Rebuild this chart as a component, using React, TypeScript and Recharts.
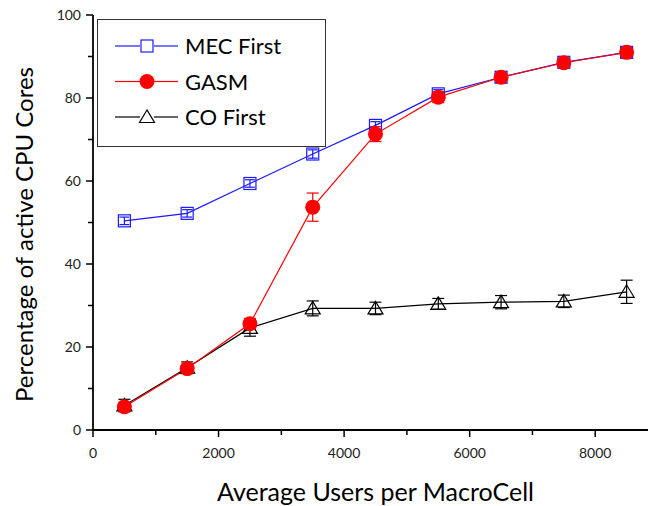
import React from "react";
import {
  LineChart,
  Line,
  XAxis,
  YAxis,
  ErrorBar,
  Legend,
} from "recharts";

const users = [500, 1500, 2500, 3500, 4500, 5500, 6500, 7500, 8500];
const mecFirst = [50.4, 52.2, 59.4, 66.5, 73.4, 81.0, 85.0, 88.6, 91.0];
const mecErr = [0.9, 0.9, 0.9, 1.0, 0.9, 1.0, 0.8, 0.8, 0.8];
const gasm = [5.6, 14.8, 25.6, 53.7, 71.3, 80.2, 85.0, 88.5, 91.0];
const gasmErr = [1.0, 1.0, 1.3, 3.4, 1.8, 1.3, 0.8, 0.8, 0.8];
const coFirst = [5.9, 15.0, 24.6, 29.3, 29.3, 30.4, 30.8, 31.0, 33.3];
const coErr = [1.5, 1.4, 2.0, 1.8, 1.5, 1.3, 1.6, 1.5, 2.8];

const seriesNames = ["MEC First", "GASM", "CO First"];
const xTicks = [0, 1000, 2000, 3000, 4000, 5000, 6000, 7000, 8000, 9000];
const yTicks = [0, 10, 20, 30, 40, 50, 60, 70, 80, 90, 100];

const rows = users.map((u, i) => ({
  users: u,
  mec: mecFirst[i],
  mecErr: mecErr[i],
  gasm: gasm[i],
  gasmErr: gasmErr[i],
  co: coFirst[i],
  coErr: coErr[i],
}));

const FONT = "Lato, 'Open Sans', sans-serif";
const BLUE = "#1a1aff";
const RED = "#ff0000";
const colors: Record<string, string> = {
  "MEC First": BLUE,
  GASM: RED,
  "CO First": "#000",
};

const Square = ({ cx, cy, c }: any) => (
  <rect x={cx - 6} y={cy - 6} width={12} height={12} fill="none" stroke={c} strokeWidth={1.2} />
);
const Circle = ({ cx, cy, c }: any) => <circle cx={cx} cy={cy} r={7.5} fill={c} />;
const Triangle = ({ cx, cy, c }: any) => (
  <polygon
    points={`${cx},${cy - 7} ${cx - 7.5},${cy + 5.5} ${cx + 7.5},${cy + 5.5}`}
    fill="none"
    stroke={c}
    strokeWidth={1.2}
  />
);

const markers: Record<string, any> = {
  "MEC First": Square,
  GASM: Circle,
  "CO First": Triangle,
};

const dotFor = (name: string) => (p: any) => {
  const M = markers[name];
  return <M key={p.index} cx={p.cx} cy={p.cy} c={colors[name]} />;
};

const XTick = ({ x, y, payload }: any) => {
  const major = payload.value % 2000 === 0;
  return (
    <g>
      <line x1={x} y1={y} x2={x} y2={y + (major ? 7 : 5)} stroke="#000" strokeWidth={1.5} />
      {major && (
        <text x={x} y={y + 28} textAnchor="middle" fontSize={14} fontFamily={FONT} fill="#222">
          {payload.value}
        </text>
      )}
    </g>
  );
};

const TopTick = ({ x, y, payload }: any) => {
  const major = payload.value % 2000 === 0;
  return <line x1={x} y1={y} x2={x} y2={y + (major ? 9 : 5)} stroke="#000" strokeWidth={1.5} />;
};

const YTick = ({ x, y, payload }: any) => {
  const major = payload.value % 20 === 0;
  return (
    <g>
      <line x1={x} y1={y} x2={x - (major ? 7 : 5)} y2={y} stroke="#000" strokeWidth={1.5} />
      {major && (
        <text x={x - 12} y={y + 5} textAnchor="end" fontSize={14} fontFamily={FONT} fill="#222">
          {payload.value}
        </text>
      )}
    </g>
  );
};

const LegendBox = ({ payload }: any) => {
  const items = seriesNames.filter((n) => (payload || []).some((e: any) => e.value === n));
  return (
    <svg width={229} height={128} style={{ display: "block" }}>
      <rect x={0.5} y={0.5} width={228} height={127} fill="#fff" stroke="#333" />
      {items.map((name, i) => {
        const M = markers[name];
        const c = colors[name];
        const cy = 27 + i * 35.5;
        return (
          <g key={name}>
            <line x1={18} y1={cy} x2={43} y2={cy} stroke={c} strokeWidth={1.2} />
            <line x1={57} y1={cy} x2={81} y2={cy} stroke={c} strokeWidth={1.2} />
            <M cx={50} cy={cy} c={c} />
            <text x={88} y={cy + 8} fontSize={22} fontFamily={FONT} fill="#000">
              {name}
            </text>
          </g>
        );
      })}
    </svg>
  );
};

export default function App() {
  return (
    <div
      style={{
        position: "fixed",
        left: 0,
        top: 0,
        width: 648,
        height: 506,
        overflow: "hidden",
        background: "#fff",
      }}
    >
      <LineChart
        width={670}
        height={506}
        data={rows}
        margin={{ top: 15, right: 12, bottom: 0, left: 0 }}
      >
        <XAxis
          dataKey="users"
          type="number"
          domain={[0, 9000]}
          ticks={xTicks}
          interval={0}
          height={76}
          tickSize={0}
          tickMargin={0}
          tick={<XTick />}
          axisLine={{ stroke: "#000", strokeWidth: 1.8 }}
          label={{
            content: ({ viewBox }: any) => (
              <text
                x={viewBox.x + viewBox.width / 2}
                y={viewBox.y + 71}
                textAnchor="middle"
                fontSize={25}
                fontFamily={FONT}
                fill="#000"
              >
                Average Users per MacroCell
              </text>
            ),
          }}
        />
        <XAxis
          xAxisId="top"
          orientation="top"
          dataKey="users"
          type="number"
          domain={[0, 9000]}
          ticks={xTicks}
          interval={0}
          height={0}
          tickSize={0}
          tickMargin={0}
          tick={<TopTick />}
          axisLine={{ stroke: "#000", strokeWidth: 1.8 }}
        />
        <YAxis
          type="number"
          domain={[0, 100]}
          ticks={yTicks}
          interval={0}
          width={93}
          tickSize={0}
          tickMargin={0}
          tick={<YTick />}
          axisLine={{ stroke: "#000", strokeWidth: 1.8 }}
          label={{
            content: ({ viewBox }: any) => {
              const x = 33;
              const y = viewBox.y + viewBox.height / 2 + 12;
              return (
                <text
                  x={x}
                  y={y}
                  transform={`rotate(-90, ${x}, ${y})`}
                  textAnchor="middle"
                  fontSize={24}
                  fontFamily={FONT}
                  fill="#000"
                >
                  Percentage of active CPU Cores
                </text>
              );
            },
          }}
        />
        <Legend
          layout="vertical"
          align="center"
          verticalAlign="middle"
          content={<LegendBox />}
          wrapperStyle={{ position: "absolute", left: 97, top: 19, width: 229, height: 128 }}
        />
        <Line
          name="MEC First"
          dataKey="mec"
          stroke={BLUE}
          strokeWidth={1.2}
          isAnimationActive={false}
          dot={dotFor("MEC First")}
        >
          <ErrorBar dataKey="mecErr" width={5} stroke={BLUE} strokeWidth={1.2} direction="y" />
        </Line>
        <Line
          name="CO First"
          dataKey="co"
          stroke="#000"
          strokeWidth={1.2}
          isAnimationActive={false}
          dot={dotFor("CO First")}
        >
          <ErrorBar dataKey="coErr" width={6} stroke="#000" strokeWidth={1.2} direction="y" />
        </Line>
        <Line
          name="GASM"
          dataKey="gasm"
          stroke={RED}
          strokeWidth={1.2}
          isAnimationActive={false}
          dot={dotFor("GASM")}
        >
          <ErrorBar dataKey="gasmErr" width={6} stroke={RED} strokeWidth={1.2} direction="y" />
        </Line>
      </LineChart>
    </div>
  );
}
